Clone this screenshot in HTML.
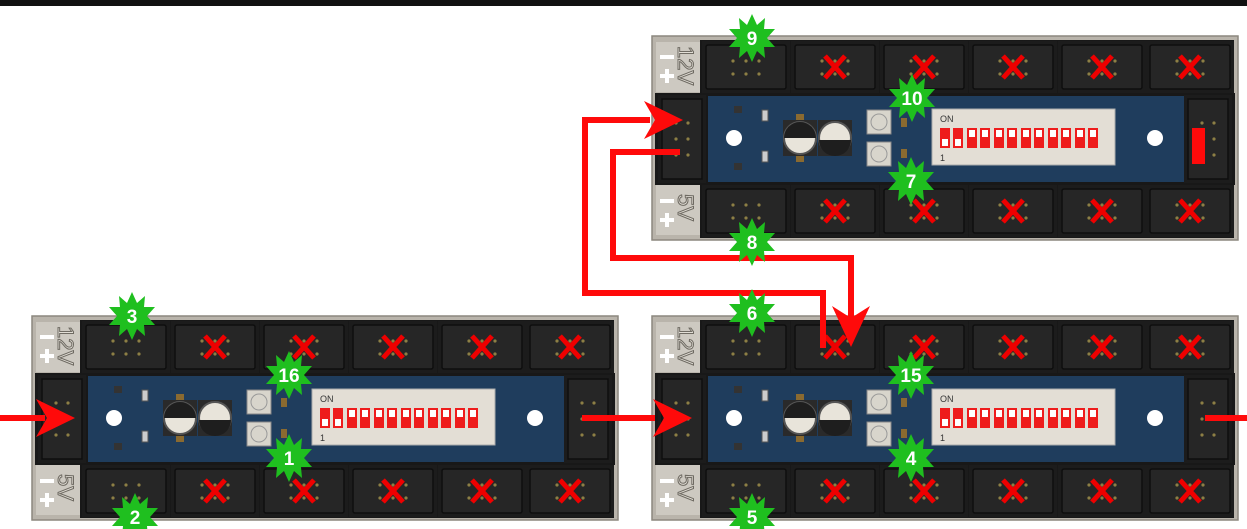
<!DOCTYPE html>
<html><head><meta charset="utf-8"><style>
html,body{margin:0;padding:0;background:#fff;}
svg{display:block;}
text{font-family:"Liberation Sans",sans-serif;}
</style></head><body>
<svg width="1247" height="529" viewBox="0 0 1247 529" xmlns="http://www.w3.org/2000/svg">
<defs>
  <g id="slot">
    <rect x="0" y="0" width="88" height="52" fill="#1c1c1c"/>
    <rect x="4" y="4" width="80" height="44" rx="2" fill="#262626" stroke="#0e0e0e" stroke-width="1.5"/>
    <g fill="#8d7f45">
      <circle cx="31" cy="20" r="1.6"/><circle cx="44" cy="20" r="1.6"/><circle cx="57" cy="20" r="1.6"/>
      <circle cx="31" cy="33" r="1.6"/><circle cx="44" cy="33" r="1.6"/><circle cx="57" cy="33" r="1.6"/>
    </g>
  </g>
  <g id="xm"><path d="M-10,-11 L10,11 M10,-11 L-10,11" stroke="#ee0000" stroke-width="5"/></g>
  <g id="vconn">
    <rect x="0" y="0" width="48" height="88" fill="#1c1c1c"/>
    <rect x="4" y="4" width="40" height="80" fill="#262626" stroke="#0e0e0e" stroke-width="1.5"/>
    <g fill="#8d7f45">
      <circle cx="18" cy="28" r="1.6"/><circle cx="30" cy="28" r="1.6"/>
      <circle cx="18" cy="44" r="1.6"/><circle cx="30" cy="44" r="1.6"/>
      <circle cx="18" cy="60" r="1.6"/><circle cx="30" cy="60" r="1.6"/>
    </g>
  </g>
  <g id="board">
    <rect x="0" y="0" width="586" height="204" fill="#b9b4ab" stroke="#8c877f" stroke-width="1.5"/>
    <rect x="4" y="6" width="44" height="50" fill="#cdc9c1"/>
    <rect x="4" y="149" width="44" height="50" fill="#cdc9c1"/>
    <rect x="48" y="4" width="534" height="54" fill="#181818"/>
    <rect x="3" y="57" width="580" height="92" fill="#181818"/>
    <rect x="48" y="148" width="534" height="54" fill="#181818"/>
    <use href="#slot" x="50" y="5"/><use href="#slot" x="139" y="5"/><use href="#slot" x="228" y="5"/>
    <use href="#slot" x="317" y="5"/><use href="#slot" x="406" y="5"/><use href="#slot" x="494" y="5"/>
    <use href="#slot" x="50" y="149"/><use href="#slot" x="139" y="149"/><use href="#slot" x="228" y="149"/>
    <use href="#slot" x="317" y="149"/><use href="#slot" x="406" y="149"/><use href="#slot" x="494" y="149"/>
    <use href="#vconn" x="6" y="59"/>
    <use href="#vconn" x="532" y="59"/>
    <rect x="56" y="60" width="476" height="86" fill="#1f3d5d"/>
    <circle cx="82" cy="102" r="8" fill="#fff"/>
    <circle cx="503" cy="102" r="8" fill="#fff"/>
    <rect x="82" y="70" width="8" height="7" fill="#333"/>
    <rect x="82" y="127" width="8" height="7" fill="#333"/>
    <rect x="110" y="74" width="6" height="11" fill="#ccc" stroke="#555"/>
    <rect x="110" y="115" width="6" height="11" fill="#ccc" stroke="#555"/>
    <rect x="144" y="78" width="8" height="6" fill="#8a6a30"/>
    <rect x="144" y="120" width="8" height="6" fill="#8a6a30"/>
    <rect x="131" y="84" width="34" height="36" fill="#2a2a2a"/>
    <circle cx="148" cy="102" r="16" fill="#e8e4da" stroke="#555" stroke-width="2"/>
    <path d="M132,102 A16,16 0 0 1 164,102 Z" fill="#1e1e1e"/>
    <rect x="166" y="84" width="34" height="36" fill="#2a2a2a"/>
    <circle cx="183" cy="102" r="16" fill="#e8e4da" stroke="#555" stroke-width="2"/>
    <path d="M167,104 A16,16 0 0 0 199,104 Z" fill="#1e1e1e"/>
    <rect x="215" y="74" width="24" height="24" fill="#d8d5cc" stroke="#888"/>
    <circle cx="227" cy="86" r="8" fill="none" stroke="#999"/>
    <rect x="215" y="106" width="24" height="24" fill="#d8d5cc" stroke="#888"/>
    <circle cx="227" cy="118" r="8" fill="none" stroke="#999"/>
    <rect x="249" y="82" width="6" height="9" fill="#8a6a30"/>
    <rect x="249" y="113" width="6" height="9" fill="#8a6a30"/>
    <rect x="280" y="73" width="183" height="56" fill="#e3ded5" stroke="#aaa"/>
    <g fill="#ee1c1c">
      <rect x="288" y="92" width="10" height="20"/><rect x="301" y="92" width="10" height="20"/>
      <rect x="315" y="92" width="10" height="20"/><rect x="328" y="92" width="10" height="20"/>
      <rect x="342" y="92" width="10" height="20"/><rect x="355" y="92" width="10" height="20"/>
      <rect x="369" y="92" width="10" height="20"/><rect x="382" y="92" width="10" height="20"/>
      <rect x="396" y="92" width="10" height="20"/><rect x="409" y="92" width="10" height="20"/>
      <rect x="423" y="92" width="10" height="20"/><rect x="436" y="92" width="10" height="20"/>
    </g>
    <g fill="#fff">
      <rect x="290" y="103" width="6" height="7"/><rect x="303" y="103" width="6" height="7"/>
      <rect x="317" y="94" width="6" height="7"/><rect x="330" y="94" width="6" height="7"/>
      <rect x="344" y="94" width="6" height="7"/><rect x="357" y="94" width="6" height="7"/>
      <rect x="371" y="94" width="6" height="7"/><rect x="384" y="94" width="6" height="7"/>
      <rect x="398" y="94" width="6" height="7"/><rect x="411" y="94" width="6" height="7"/>
      <rect x="425" y="94" width="6" height="7"/><rect x="438" y="94" width="6" height="7"/>
    </g>
    <use href="#xm" x="183" y="31"/><use href="#xm" x="272" y="31"/><use href="#xm" x="361" y="31"/>
    <use href="#xm" x="450" y="31"/><use href="#xm" x="538" y="31"/>
    <use href="#xm" x="183" y="175"/><use href="#xm" x="272" y="175"/><use href="#xm" x="361" y="175"/>
    <use href="#xm" x="450" y="175"/><use href="#xm" x="538" y="175"/>
  </g>
  <g id="star">
    <polygon fill="#1fbf1f" points="0,-24 5,-13 13,-20 12,-9 23,-9 15,0 23,9 12,9 13,20 5,13 0,24 -5,13 -13,20 -12,9 -23,9 -15,0 -23,-9 -12,-9 -13,-20 -5,-13"/>
  </g>
</defs>

<rect x="0" y="0" width="1247" height="6" fill="#111"/>

<use href="#board" x="652" y="36"/>
<use href="#board" x="32" y="316"/>
<use href="#board" x="652" y="316"/>

<rect x="1192" y="128" width="13" height="36" fill="#ff0a0a"/>

<g fill="#e2ded6" font-size="22" stroke="#6e6a62" stroke-width="1">
  <text transform="translate(678,46) rotate(90)">12V</text>
  <text transform="translate(678,194) rotate(90)">5V</text>
  <text transform="translate(58,326) rotate(90)">12V</text>
  <text transform="translate(58,474) rotate(90)">5V</text>
  <text transform="translate(678,326) rotate(90)">12V</text>
  <text transform="translate(678,474) rotate(90)">5V</text>
</g>
<g stroke="#fff" stroke-width="4">
  <path d="M660,57h14M660,76h14M667,69v14M660,201h14M660,220h14M667,213v14"/>
  <path d="M40,337h14M40,356h14M47,349v14M40,481h14M40,500h14M47,493v14"/>
  <path d="M660,337h14M660,356h14M667,349v14M660,481h14M660,500h14M667,493v14"/>
</g>
<g font-size="9" fill="#333">
  <text x="940" y="122">ON</text><text x="940" y="161">1</text>
  <text x="320" y="402">ON</text><text x="320" y="441">1</text>
  <text x="940" y="402">ON</text><text x="940" y="441">1</text>
</g>

<g stroke="#ff0a0a" stroke-width="6" fill="none" stroke-linejoin="miter">
  <path d="M680,152 H613 V258 H851 V320"/>
  <path d="M823,348 V293 H585 V120 H650"/>
  <path d="M0,418 H45"/>
  <path d="M582,418 H655"/>
  <path d="M1205,418 H1247"/>
</g>
<g fill="#ff0a0a">
  <polygon points="683,120 644,101 655,120 644,139"/>
  <polygon points="851,347 832,306 851,318 870,306"/>
  <polygon points="75,418 36,399 47,418 36,437"/>
  <polygon points="692,418 653,399 664,418 653,437"/>
</g>

<g>
  <use href="#star" x="752" y="38"/><use href="#star" x="912" y="98"/>
  <use href="#star" x="911" y="181"/><use href="#star" x="752" y="242"/>
  <use href="#star" x="752" y="313"/><use href="#star" x="911" y="375"/>
  <use href="#star" x="911" y="458"/><use href="#star" x="752" y="517"/>
  <use href="#star" x="132" y="316"/><use href="#star" x="289" y="375"/>
  <use href="#star" x="289" y="458"/><use href="#star" x="135" y="517"/>
</g>
<g fill="#fff" font-size="19" font-weight="bold" text-anchor="middle">
  <text x="752" y="45">9</text><text x="912" y="105">10</text>
  <text x="911" y="188">7</text><text x="752" y="249">8</text>
  <text x="752" y="320">6</text><text x="911" y="382">15</text>
  <text x="911" y="465">4</text><text x="752" y="524">5</text>
  <text x="132" y="323">3</text><text x="289" y="382">16</text>
  <text x="289" y="465">1</text><text x="135" y="524">2</text>
</g>
</svg>
</body></html>
